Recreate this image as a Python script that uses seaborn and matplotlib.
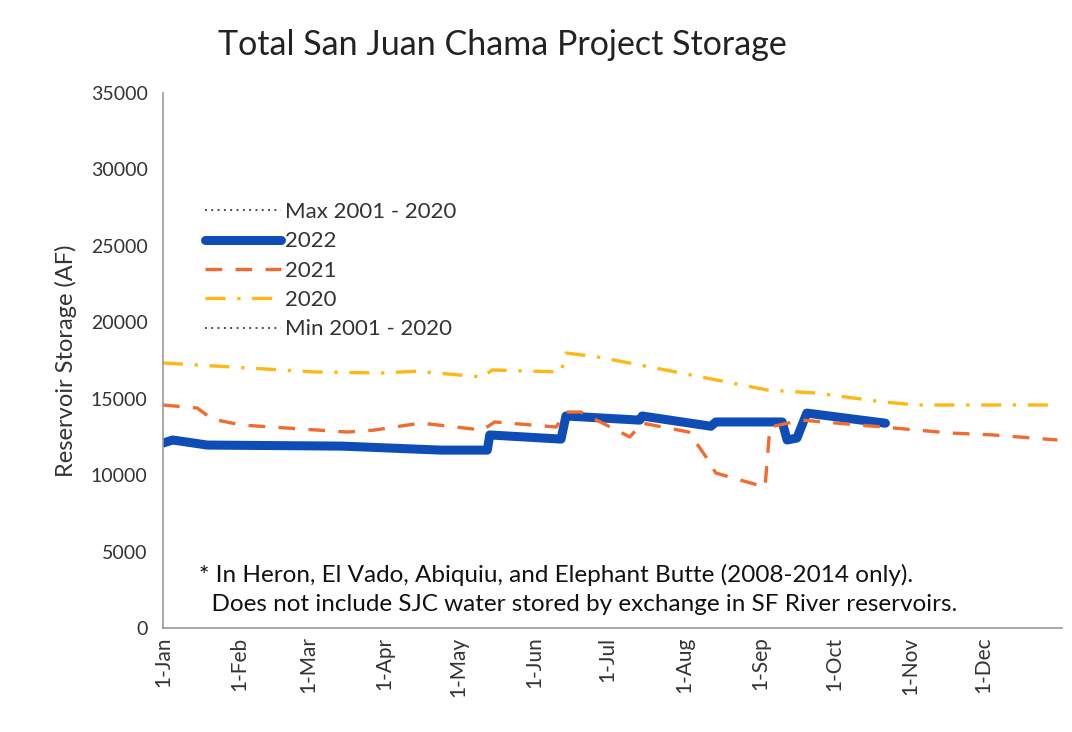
import matplotlib
matplotlib.use("Agg")
import matplotlib.pyplot as plt
import seaborn as sns

# day of year (0 = 1-Jan) and storage in acre-feet
days_2022 = [0, 4, 18, 73, 113, 132, 133, 162, 164, 194, 195, 223, 225, 252, 254, 258, 262, 294]
vals_2022 = [12100, 12300, 11970, 11900, 11640, 11640, 12630, 12360, 13870, 13600, 13870,
             13200, 13480, 13480, 12300, 12430, 14060, 13400]

days_2021 = [0, 14, 20, 32, 75, 86, 105, 130, 135, 160, 164, 170, 190, 195, 214, 221, 225,
             245, 247, 260, 293, 320, 338, 364]
vals_2021 = [14590, 14390, 13670, 13280, 12820, 12950, 13410, 12950, 13480, 13150, 14130,
             14130, 12500, 13410, 12820, 11190, 10140, 9220, 13150, 13600, 13150, 12760,
             12630, 12300]

days_2020 = [0, 62, 89, 103, 130, 134, 162, 164, 177, 211, 246, 266, 293, 307, 364]
vals_2020 = [17340, 16750, 16680, 16800, 16420, 16880, 16750, 17990, 17730, 16680, 15570,
             15370, 14790, 14590, 14590]

month_starts = [0, 31, 59, 90, 120, 151, 181, 212, 243, 273, 304, 334]
month_labels = ["1-Jan", "1-Feb", "1-Mar", "1-Apr", "1-May", "1-Jun", "1-Jul",
                "1-Aug", "1-Sep", "1-Oct", "1-Nov", "1-Dec"]
y_ticks = [0, 5000, 10000, 15000, 20000, 25000, 30000, 35000]

sns.set_style("white")
plt.rcParams["font.family"] = ["Lato", "DejaVu Sans"]

fig = plt.figure(figsize=(10.72, 7.32), dpi=100)
ax = fig.add_axes([0.152, 0.142, 0.839, 0.731])

# Max/Min 2001-2020 only show up in the legend of the original
ax.plot([], [], color="#333333", lw=1.3, ls=(0, (1, 2.5)), label="Max 2001 - 2020")
sns.lineplot(x=days_2022, y=vals_2022, ax=ax, color="#0D4DB5", lw=6.5,
             estimator=None, label="2022", solid_capstyle="round", solid_joinstyle="round")
sns.lineplot(x=days_2021, y=vals_2021, ax=ax, color="#F26A2E", lw=2.4,
             ls=(0, (5, 4)), estimator=None, label="2021")
sns.lineplot(x=days_2020, y=vals_2020, ax=ax, color="#FDB813", lw=2.4,
             ls=(0, (6, 3.5, 1, 3.5)), estimator=None, label="2020")
ax.plot([], [], color="#333333", lw=1.3, ls=(0, (1, 2.5)), label="Min 2001 - 2020")

ax.set_xlim(0, 366)
ax.set_ylim(0, 35000)
ax.set_xticks(month_starts)
ax.set_xticklabels(month_labels, rotation=90, fontsize=15, color="#333333")
ax.set_yticks(y_ticks)
ax.set_yticklabels([str(v) for v in y_ticks], fontsize=14, color="#333333")
ax.tick_params(axis="y", length=0, pad=11)
ax.tick_params(axis="x", length=0, pad=6)
ax.set_xlabel("")
ax.set_ylabel("Reservoir Storage (AF)", fontsize=17, color="#333333", labelpad=10)

for s in ["top", "right"]:
    ax.spines[s].set_visible(False)
for s in ["left", "bottom"]:
    ax.spines[s].set_color("#999999")
    ax.spines[s].set_linewidth(1.2)

ax.legend(loc="upper left", bbox_to_anchor=(0.03, 0.825), frameon=False,
          fontsize=16, handlelength=3.4, handletextpad=0.2, labelspacing=0.42,
          labelcolor="#333333", borderpad=0.2)

ax.text(0.04, 0.072, "* In Heron, El Vado, Abiquiu, and Elephant Butte (2008-2014 only).\n"
        "  Does not include SJC water stored by exchange in SF River reservoirs.",
        transform=ax.transAxes, fontsize=17.5, color="#111111", linespacing=1.45,
        va="center", ha="left")

fig.text(0.469, 0.938, "Total San Juan Chama Project Storage", fontsize=24.5,
         ha="center", va="center", color="#222222")

fig.savefig("out.png", dpi=100)
